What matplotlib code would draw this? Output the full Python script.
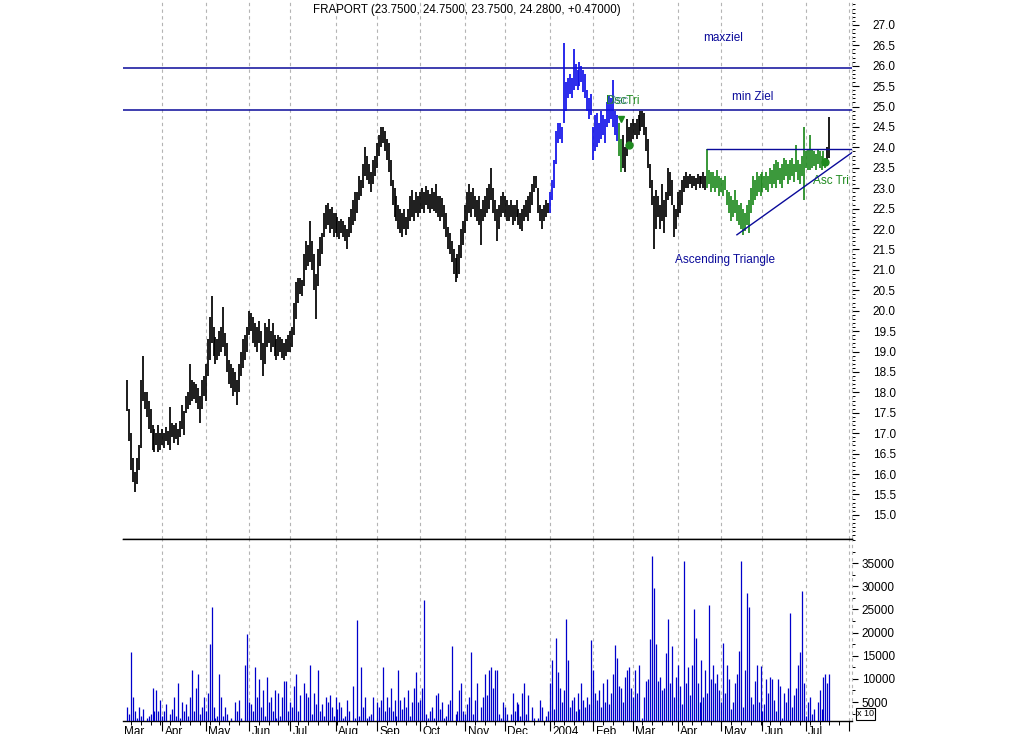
import numpy as np
import pandas as pd
import matplotlib
matplotlib.use("Agg")
import matplotlib.pyplot as plt
from matplotlib.ticker import FixedLocator
from matplotlib.transforms import Bbox, TransformedBbox

plt.rcParams['font.family'] = ['Liberation Sans', 'DejaVu Sans']

# ==================================================
# Data (daily bars, first bar 2003-03-06)
# ==================================================
FIRST_DAY = "2003-03-06"
TITLE = "FRAPORT (23.7500, 24.7500, 23.7500, 24.2800, +0.47000)"

low = [
    # Mar 2003
    17.55, 16.80, 16.10, 15.80, 15.55, 15.75, 16.10, 16.65, 17.80, 17.60, 17.40, 17.10, 17.00, 16.60, 16.55, 16.70, 16.55, 16.60,
    # Apr
    16.70, 16.65, 16.80, 16.70, 16.60, 16.90, 16.75, 16.85, 16.70, 16.90, 17.10, 16.95, 17.50, 17.60, 17.70, 17.80, 17.85, 17.75, 17.60, 17.25, 17.60, 17.90,
    # May
    17.80, 18.40, 18.80, 19.20, 18.90, 18.70, 18.80, 18.90, 19.00, 19.10, 18.90, 18.50, 18.20, 18.10, 17.90, 18.00, 17.70, 18.00, 18.40, 18.60, 18.80, 19.00,
    # Jun
    19.40, 19.50, 19.20, 19.10, 19.00, 19.20, 18.80, 18.40, 18.70, 19.10, 19.20, 19.00, 19.10, 18.90, 18.80, 18.90, 19.00, 18.85, 18.80, 18.90, 19.00,
    # Jul
    19.00, 19.10, 19.40, 19.80, 20.20, 20.40, 20.35, 20.60, 21.00, 21.10, 21.20, 21.00, 20.50, 19.80, 20.60, 21.10, 21.40, 21.80, 22.00, 22.10, 21.90, 22.00, 21.80,
    # Aug
    21.90, 21.80, 21.75, 21.90, 21.80, 21.70, 21.50, 21.80, 21.90, 22.10, 22.20, 22.40, 22.70, 22.80, 23.00, 23.30, 23.20, 23.10, 22.90, 23.10, 23.30,
    # Sep
    23.50, 23.80, 24.00, 24.10, 23.90, 23.70, 23.40, 23.05, 22.60, 22.30, 22.20, 22.00, 21.90, 21.80, 22.00, 21.85, 22.00, 22.20, 22.30, 22.20, 22.40, 22.30,
    # Oct
    22.40, 22.50, 22.40, 22.60, 22.50, 22.40, 22.50, 22.45, 22.40, 22.30, 22.20, 22.30, 22.00, 21.80, 21.50, 21.40, 21.20, 20.90, 20.70, 20.80, 20.90, 21.30, 21.60,
    # Nov
    21.90, 22.20, 22.40, 22.30, 22.50, 22.30, 22.20, 22.10, 21.60, 22.20, 22.30, 22.40, 22.50, 22.70, 22.40, 22.20, 21.70, 22.00, 22.30, 22.40,
    # Dec
    22.30, 22.20, 22.20, 22.30, 22.10, 22.20, 22.30, 22.10, 22.00, 21.95, 22.20, 22.30, 22.20, 22.40, 22.60, 22.90, 23.00, 22.40, 22.20, 22.00, 22.20, 22.30, 22.40,
    # Jan 2004
    22.40, 22.70, 23.00, 23.60, 24.10, 24.20, 24.10, 24.60, 24.90, 25.20, 25.30, 25.20, 25.40, 25.50, 25.40, 25.50, 25.60, 25.35, 25.20, 24.90, 24.70, 24.80,
    # Feb
    23.70, 23.90, 24.00, 24.10, 24.20, 24.30, 24.10, 24.50, 24.60, 24.70, 24.50, 24.30, 24.15, 23.80, 23.40, 23.50, 23.40, 23.80, 24.00, 24.10,
    # Mar
    24.20, 24.30, 24.20, 24.30, 24.40, 24.50, 24.30, 23.90, 23.50, 23.00, 22.60, 21.50, 22.00, 22.30, 22.00, 22.20, 21.90, 22.30, 22.70, 22.80, 22.60, 21.80, 22.00,
    # Apr
    22.30, 22.40, 22.60, 22.90, 23.00, 23.00, 23.10, 23.00, 23.05, 22.95, 23.10, 23.00, 23.10, 23.00, 22.95, 23.00, 23.10, 22.90, 23.00, 22.90, 23.00, 22.80,
    # May
    22.90, 22.80, 22.95, 22.60, 22.40, 22.20, 22.30, 22.40, 22.20, 22.10, 22.00, 21.85, 21.95, 22.10, 21.90, 22.40, 22.60, 22.70, 22.80, 22.90, 22.80,
    # Jun
    22.90, 23.00, 22.95, 22.90, 23.10, 23.00, 23.10, 23.00, 23.20, 23.10, 23.00, 23.20, 23.30, 23.10, 23.20, 23.30, 23.15, 23.40, 23.20, 23.10, 23.30, 22.70,
    # Jul
    23.50, 23.45, 23.45, 23.50, 23.55, 23.45, 23.60, 23.50, 23.45, 23.55, 23.50, 23.60, 23.75,
]

high = [
    # Mar 2003
    18.30, 17.60, 17.00, 16.40, 16.05, 16.40, 16.70, 18.30, 18.90, 18.00, 18.00, 17.80, 17.60, 17.20, 17.10, 17.00, 17.20, 17.00,
    # Apr
    17.10, 17.00, 17.15, 17.05, 17.65, 17.25, 17.20, 17.25, 17.10, 17.30, 17.70, 17.55, 17.90, 18.00, 18.70, 18.30, 18.25, 18.20, 18.10, 17.90, 18.30, 18.40,
    # May
    18.70, 19.30, 19.85, 20.35, 19.60, 19.35, 19.30, 19.50, 19.60, 20.10, 19.45, 19.20, 18.80, 18.70, 18.60, 18.50, 18.30, 18.70, 19.00, 19.30, 19.40, 19.60,
    # Jun
    20.00, 19.95, 19.85, 19.70, 19.60, 19.75, 19.50, 19.20, 19.70, 19.60, 19.80, 19.50, 19.70, 19.40, 19.30, 19.40, 19.35, 19.30, 19.20, 19.30, 19.40,
    # Jul
    19.50, 19.60, 20.20, 20.70, 20.80, 20.80, 20.75, 21.40, 21.70, 21.60, 22.20, 21.70, 21.40, 20.90, 21.50, 21.80, 21.90, 22.40, 22.60, 22.65, 22.50, 22.55, 22.40,
    # Aug
    22.40, 22.30, 22.20, 22.25, 22.20, 22.10, 22.00, 22.30, 22.50, 22.70, 22.90, 22.90, 23.30, 23.20, 23.60, 24.00, 23.80, 23.60, 23.40, 23.70, 23.80,
    # Sep
    24.10, 24.30, 24.50, 24.50, 24.40, 24.20, 24.10, 23.70, 23.20, 23.00, 22.80, 22.60, 22.50, 22.40, 22.50, 22.30, 22.50, 22.80, 22.95, 22.70, 22.90, 22.80,
    # Oct
    22.90, 23.00, 22.90, 23.05, 22.95, 22.85, 23.00, 22.90, 23.10, 22.80, 22.80, 22.75, 22.60, 22.40, 22.05, 21.90, 21.70, 21.50, 21.30, 21.40, 21.60, 22.00, 22.20,
    # Nov
    22.60, 22.90, 23.10, 22.90, 23.00, 22.80, 22.70, 22.80, 22.50, 22.70, 22.80, 23.00, 23.10, 23.50, 23.00, 22.70, 22.50, 22.60, 22.80, 22.90,
    # Dec
    22.80, 22.70, 22.60, 22.70, 22.60, 22.60, 22.70, 22.50, 22.40, 22.50, 22.60, 22.70, 22.80, 22.90, 23.10, 23.30, 23.30, 23.00, 22.60, 22.50, 22.60, 22.70, 22.65,
    # Jan 2004
    22.90, 23.20, 23.70, 24.40, 24.60, 24.60, 24.50, 26.55, 25.60, 25.70, 25.80, 25.70, 26.40, 26.05, 25.90, 26.10, 26.00, 25.90, 25.80, 25.40, 25.20, 25.30,
    # Feb
    24.50, 24.80, 24.85, 24.60, 24.90, 24.80, 24.70, 25.10, 25.25, 25.20, 25.65, 24.90, 24.80, 24.60, 24.20, 24.30, 24.00, 24.70, 24.50, 24.60,
    # Mar
    24.70, 24.60, 24.70, 24.80, 24.90, 24.90, 24.85, 24.50, 24.20, 23.60, 23.20, 22.80, 22.95, 22.80, 22.60, 23.10, 22.70, 22.90, 23.50, 23.40, 23.20, 22.60, 22.50,
    # Apr
    22.90, 22.95, 23.20, 23.30, 23.40, 23.30, 23.35, 23.30, 23.30, 23.25, 23.35, 23.30, 23.30, 23.40, 23.30, 23.95, 23.45, 23.40, 23.40, 23.30, 23.45, 23.30,
    # May
    23.25, 23.20, 23.30, 22.95, 22.90, 22.80, 22.70, 22.95, 22.70, 22.60, 22.65, 22.50, 22.40, 22.60, 22.70, 23.00, 23.30, 23.20, 23.40, 23.30, 23.35,
    # Jun
    23.40, 23.30, 23.40, 23.30, 23.50, 23.45, 23.60, 23.70, 23.65, 23.50, 23.60, 23.75, 23.70, 23.60, 23.70, 23.75, 23.60, 24.05, 23.70, 23.60, 23.80, 24.50,
    # Jul
    23.90, 23.95, 24.30, 23.95, 23.90, 23.85, 23.95, 23.90, 23.80, 23.90, 23.75, 24.00, 24.75,
]

# volume in thousands
volume_k = [
    4, 2.5, 15.8, 6, 3, 1.5, 4, 2, 3.5, 1, 1.5, 2, 2.5, 8, 3, 7.5, 3, 5.5,
    2, 3, 4.5, 1, 2.5, 3.5, 6, 2, 9, 1.5, 5, 3, 4.5, 2, 6, 12, 3, 8, 11, 2.5, 4, 6,
    3, 7, 17.5, 25.5, 4, 1.5, 2, 11, 6, 2, 4, 2.5, 1, 1.5, 0.8, 5, 3, 5.5, 1.5, 0.5, 13, 19.6,
    5, 4.5, 3, 12.5, 6, 10, 4, 7.5, 2, 10.5, 5, 6, 3, 7.5, 1.5, 7, 2, 6, 9.5, 9.5, 3,
    5, 4, 8.5, 11, 3, 6.5, 1, 9, 7, 6, 13, 2.5, 7, 4.5, 12, 3, 4.5, 2, 6, 5, 6.5, 4, 2,
    6, 3.5, 5, 4, 1.5, 2, 5.5, 3, 1, 8.5, 1.5, 22.7, 2, 12.5, 4, 6, 1.5, 2, 2.5, 6, 1,
    5, 4, 5.5, 12.5, 3, 6, 4, 8, 3, 5.5, 2, 12, 5.5, 3.5, 6, 4, 7.5, 2, 5, 8, 11.5, 5,
    5.5, 8, 27, 2.5, 1.5, 3, 4, 1.5, 6.5, 7, 3.5, 5, 1.5, 2, 4.5, 5.5, 17, 1, 2.5, 3, 7.5, 9, 3,
    2.5, 4.5, 6, 15.8, 2.5, 5.5, 9, 1, 4, 6, 11, 6.5, 12, 12.5, 8, 12, 12, 2.5, 1.5, 5,
    4, 2.5, 1, 2.5, 7, 3, 5, 4.5, 2, 7, 9, 2.5, 6.5, 1, 4, 1.5, 1, 1.5, 5.5, 4, 1, 2, 3,
    9, 14, 3.5, 18.8, 11.5, 8, 5, 7.5, 22.9, 14, 4, 5.5, 6, 3, 7, 3.5, 9, 5.5, 4, 6, 4.5, 18.4,
    12, 7, 5.5, 7.5, 4, 9, 5, 10, 4.5, 7, 11, 17.3, 14.5, 8.5, 8, 5, 10.5, 12, 12.5, 8,
    6, 12, 7, 13, 1, 1.5, 6, 9.5, 10, 18.7, 36.5, 29.6, 17.5, 9.5, 10.5, 7.5, 8, 15.5, 22.9, 9, 17, 6, 10.5,
    13, 8.5, 4.5, 35.4, 9, 12.5, 6.5, 13, 25, 18.8, 9, 5, 14, 6, 12, 7, 26, 10, 13, 9, 11, 7.5,
    5, 17.8, 7, 13, 10, 3.5, 5, 9, 11, 16, 35.4, 4, 12, 28.5, 25.6, 6, 4.5, 9.5, 13, 5, 12.7,
    3, 4.5, 10, 7, 10.5, 10, 5.5, 3, 10, 8.5, 1.5, 7, 5, 8, 24.2, 4, 6.5, 8, 13, 15.8, 29, 9,
    2, 5, 6, 2.5, 3.5, 1, 5, 7.5, 3.5, 10.5, 11, 9, 11,
]

# highlighted pattern stretches (bar colours)
blue_span = ("2004-01-01", "2004-02-18")
green_spans = [("2004-02-19", "2004-02-20"), ("2004-04-22", "2004-07-15")]

# target levels and triangle lines
max_ziel = 25.95
min_ziel = 24.92
tri_top = 23.96
tri_top_from = "2004-04-22"
tri_base = [("2004-05-13", 21.86), ("2004-08-06", 23.96)]

# pattern markers
arrow_mark = ("2004-02-20", 24.70)
dot_marks = [("2004-02-26", 24.06), ("2004-07-15", 23.65)]

# ==================================================
# Build index / calendar
# ==================================================
n = len(low)
dates = pd.bdate_range(FIRST_DAY, periods=n)
x = np.arange(n)

cal = pd.bdate_range("2003-03-03", "2004-08-10")
offset = cal.get_loc(pd.Timestamp(FIRST_DAY))
cal_x = np.arange(len(cal)) - offset


def pos(day):
    return cal_x[cal.get_loc(pd.Timestamp(day))]


month_start = [i for i in range(len(cal)) if i == 0 or cal[i].month != cal[i - 1].month]
month_x = cal_x[month_start]
month_lbl = [("2004" if cal[i].month == 1 else cal[i].strftime("%b")) for i in month_start]
monday_x = cal_x[cal.weekday == 0]

colors = np.array(["black"] * n, dtype=object)
colors[(dates >= blue_span[0]) & (dates <= blue_span[1])] = "#1010e8"
for a, b in green_spans:
    colors[(dates >= a) & (dates <= b)] = "#1f8a1f"

XMIN, XMAX = -2.0, 368.5
NAVY = "#0a0a9a"
GRID = "#b4b4b4"

# ==================================================
# Figure
# ==================================================
fig = plt.figure(figsize=(10.24, 7.34), dpi=100)
L, R = 123 / 1024, 852 / 1024
ax = fig.add_axes([L, 1 - 539 / 734, R - L, 539 / 734])
axv = fig.add_axes([L, 1 - 721 / 734, R - L, (721 - 539) / 734], sharex=ax)

for a in (ax, axv):
    for m in month_x:
        a.axvline(m, color=GRID, ls=(0, (3, 3)), lw=0.8, zorder=0)
    a.plot([1, 1], [0, 1], transform=a.transAxes, color=GRID, ls=(0, (3, 3)), lw=0.8, clip_on=False)
    for s in ("top", "left", "right"):
        a.spines[s].set_visible(False)
    a.spines["bottom"].set_linewidth(1.0)
    a.yaxis.tick_right()

# separator between price and volume panel
axv.spines["top"].set_visible(True)
axv.spines["top"].set_color("black")
axv.spines["top"].set_linewidth(1.0)

# price bars
ax.vlines(x, low, high, colors=colors, lw=1.25, zorder=3)

# levels / triangle
ax.axhline(max_ziel, color=NAVY, lw=1.1, zorder=2)
ax.axhline(min_ziel, color=NAVY, lw=1.1, zorder=2)
ax.plot([pos(tri_top_from), XMAX + 2], [tri_top, tri_top], color=NAVY, lw=1.0, zorder=4)
ax.plot([pos(tri_base[0][0]), pos(tri_base[1][0])], [tri_base[0][1], tri_base[1][1]],
        color=NAVY, lw=1.0, zorder=4)

ax.plot(pos(arrow_mark[0]), arrow_mark[1], marker="v", color="#1f8a1f", ms=5, zorder=5)
for d, p in dot_marks:
    ax.plot(pos(d), p, marker="o", color="#1f8a1f", ms=5, zorder=5)

ax.text(293, 26.68, "maxziel", color=NAVY, fontsize=8.5, va="center")
ax.text(307.5, 25.24, "min Ziel", color=NAVY, fontsize=8.5, va="center")
ax.text(278.5, 21.24, "Ascending Triangle", color=NAVY, fontsize=8.5, va="center")
ax.text(348.6, 23.18, "Asc Tri", color="#1f8a1f", fontsize=8.5, va="center")
ax.text(243.3, 25.14, "DscTri", color="#1f8a1f", fontsize=8.5, va="center", zorder=6)
ax.text(244.3, 25.14, "Dsc", color="#2a6a8a", fontsize=8.5, va="center", alpha=0.7, zorder=6)

fig.text(313 / 1024, 1 - 10 / 734, TITLE, fontsize=8.3, va="center", ha="left")

ax.set_xlim(XMIN, XMAX)
ax.set_ylim(14.41, 27.61)
ax.set_yticks(np.arange(15.0, 27.01, 0.5))
ax.set_yticklabels([f"{v:.1f}" for v in np.arange(15.0, 27.01, 0.5)])
ax.yaxis.set_minor_locator(FixedLocator(np.arange(14.5, 27.55, 0.1)))
ax.tick_params(axis="y", which="major", length=5, width=0.8, pad=10, labelsize=8.5)
ax.tick_params(axis="y", which="minor", length=2.5, width=0.7)
ax.tick_params(axis="x", which="both", bottom=False, labelbottom=False)

# volume
vol = np.array(volume_k) * 1000
vcol = "#0000cc"
axv.vlines(x, 0, vol, colors=vcol, lw=0.9, zorder=3)
axv.set_ylim(900, 40200)
vt = np.arange(5000, 35001, 5000)
axv.set_yticks(vt)
axv.set_yticklabels([str(v) for v in vt])
axv.yaxis.set_minor_locator(FixedLocator(np.arange(2500, 40001, 2500)))
axv.tick_params(axis="y", which="major", length=4, width=0.8, pad=3, labelsize=8.5)
axv.tick_params(axis="y", which="minor", length=2.5, width=0.7)

axv.set_xticks(month_x)
axv.xaxis.set_minor_locator(FixedLocator(monday_x))
axv.tick_params(axis="x", which="major", length=7, width=0.8, labelbottom=False)
axv.tick_params(axis="x", which="minor", length=3, width=0.7)
axv.set_xlim(XMIN, XMAX)

clip = TransformedBbox(Bbox([[0.003, -1], [1, 1]]), axv.transAxes)
for m, lbl in zip(month_x, month_lbl):
    t = axv.text(m + 1.3, -0.03, lbl, transform=axv.get_xaxis_transform(),
                 fontsize=8.5, ha="left", va="top", clip_on=True)
    t.set_clip_box(clip)

fig.text(857 / 1024, 1 - 714 / 734, "x 10", fontsize=6.5, va="center", ha="left",
         bbox=dict(boxstyle="square,pad=0.15", fc="white", ec="black", lw=0.8))

fig.savefig("out.png", dpi=100)
